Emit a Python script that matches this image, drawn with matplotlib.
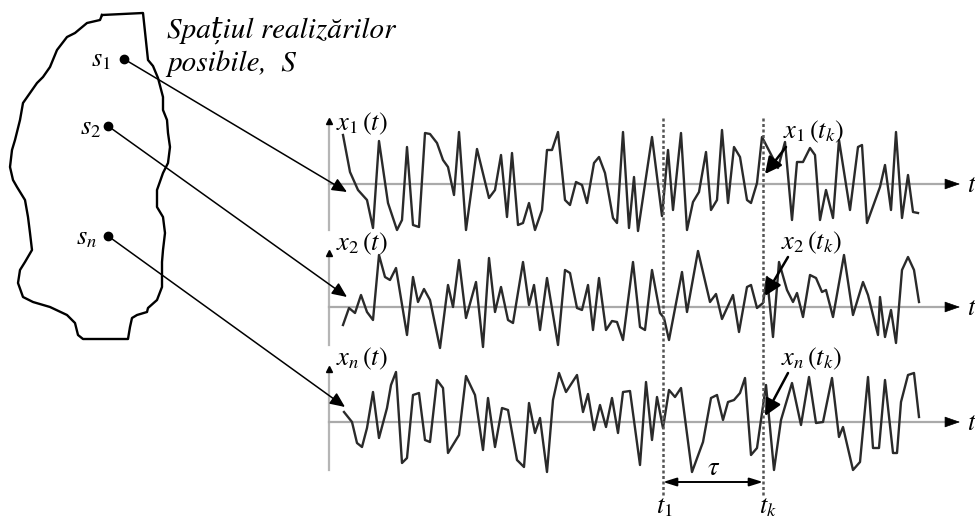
import numpy as np
import matplotlib
matplotlib.use("Agg")
import matplotlib.pyplot as plt

plt.rcParams['font.family'] = ['STIXGeneral', 'DejaVu Serif']
plt.rcParams['mathtext.fontset'] = 'stix'

# sample times (offset from the time axis origin) and amplitudes of the three realisations
t1 = [14, 21, 29, 38, 44, 50, 59, 68, 73, 78, 84, 90, 96, 101, 108, 114, 119, 125, 130, 137,
      148, 160, 166, 172, 178, 183, 189, 194, 200, 206, 213, 218, 223, 229, 236, 241, 247, 253,
      258, 265, 270, 276, 284, 288, 294, 300, 305, 309, 323, 333, 339, 344, 352, 358, 364, 370,
      377, 382, 388, 393, 399, 405, 411, 418, 422, 428, 433, 449, 456, 463, 468, 474, 481, 486,
      491, 497, 504, 510, 521, 529, 533, 538, 551, 556, 562, 567, 573, 579, 584, 589]
x1 = [49, 12, -6, -16, -44, 43, -19, -46, -36, 37, -41, -43, 51, 50, 41, 24, 17, -11, 52, -46,
      35, -14, -6, 29, -33, 31, -41, -39, -19, -46, -26, 34, 34, 52, -16, -21, 2, -1,
      -19, 21, 27, 11, -34, -39, 52, -44, 7, -47, 47, -32, 34, -26, 51, -46, -18, -8,
      32, -26, -16, 54, -19, 37, 27, -16, -19, 1, 47, 16, 42, -36, 22, 22, 36, 29,
      -36, -6, -34, 44, -26, 37, 39, -39, -3, 19, -26, 52, -34, 9, -28, -29]

t2 = [14, 20, 26, 32, 38, 44, 50, 56, 61, 67, 78, 84, 89, 95, 101, 111, 119, 124, 130, 137,
      147, 154, 160, 166, 172, 179, 184, 194, 200, 205, 211, 218, 229, 236, 241, 248, 253, 259,
      264, 270, 277, 283, 288, 294, 304, 311, 316, 323, 331, 335, 340, 353, 358, 369, 381, 387,
      393, 404, 410, 418, 422, 428, 434, 438, 444, 450, 458, 464, 468, 474, 481, 487, 493, 497,
      504, 515, 524, 534, 539, 549, 551, 556, 562, 567, 573, 579, 585, 590]
x2 = [-18, -1, -6, 12, -5, -13, 52, 30, 27, 39, -28, 30, 5, 18, 7, -41, 22, 0, 47, -11,
      25, -40, 49, -5, 20, -13, -16, 45, 2, 22, -23, 29, -38, 37, 34, -1, -3, 22,
      -23, 29, -23, -14, -15, -33, 45, -20, -23, 37, -6, -11, -33, 35, -5, 56, 5, 13,
      -12, 12, -25, 20, 22, -1, 4, 30, -30, 45, 17, 5, 14, -10, 32, 29, 15, 17,
      -10, 52, -8, 25, 12, -28, 10, -30, -3, -36, 37, 50, 37, 5]

tn = [15, 23, 28, 33, 38, 44, 50, 58, 62, 67, 73, 78, 84, 90, 96, 101, 108, 114, 119, 130,
      137, 146, 154, 159, 166, 173, 179, 188, 195, 200, 206, 211, 218, 224, 230, 237, 248, 254,
      259, 265, 271, 277, 283, 289, 294, 301, 311, 317, 323, 328, 334, 340, 346, 352, 363, 374,
      382, 388, 394, 399, 405, 411, 416, 422, 428, 437, 445, 452, 463, 472, 480, 487, 494, 503,
      510, 514, 524, 531, 539, 544, 550, 556, 564, 568, 572, 579, 585, 590]
xn = [10, 0, -21, -25, -6, 30, -16, 14, 37, 50, -41, -36, 27, 29, -18, -20, 42, 34, -31, -13,
      46, 27, -28, 24, -25, 14, 12, -38, -45, 19, -11, 4, -50, 22, 49, 30, 47, 10,
      28, -8, 17, -5, 24, -11, 30, 31, -43, 40, -18, 25, -6, 32, 25, 34, -50, -20,
      24, 27, 2, 20, 22, 29, 44, -33, -26, 37, -48, 2, 39, -3, 45, -1, 0, 44,
      -15, -5, -48, -40, 45, -26, -26, 42, -31, -31, 20, 47, 49, 5]

signals = [(t1, x1), (t2, x2), (tn, xn)]
row_labels = [r'$x_1\,(t)$', r'$x_2\,(t)$', r'$x_n\,(t)$']
tk_labels = [r'$x_1\,(t_k)$', r'$x_2\,(t_k)$', r'$x_n\,(t_k)$']
point_labels = [r'$s_1$', r'$s_2$', r'$s_n$']
title_lines = ['Spațiul realizărilor', 'posibile,  S']

# outline of the sample space S
blob_x = [102, 143, 148, 153, 158, 163, 163, 167, 168, 170, 168, 163, 157, 157, 163, 165, 163, 162,
          162, 157, 148, 147, 137, 132, 130, 128, 83, 78, 75, 67, 50, 33, 23, 18, 20, 25, 32, 30,
          28, 25, 17, 13, 10, 12, 15, 20, 23, 30, 37, 43, 50, 57, 67, 75, 87, 100, 102]
blob_y = [15, 13, 60, 66, 78, 97, 110, 120, 133, 147, 163, 173, 190, 207, 217, 233, 250, 262,
          287, 300, 308, 312, 315, 318, 327, 339, 339, 335, 323, 315, 307, 302, 297, 283, 270, 262,
          250, 233, 217, 200, 187, 180, 167, 150, 140, 120, 103, 93, 83, 77, 67, 50, 37, 33, 23, 20, 15]

fig = plt.figure(figsize=(9.75, 5.21), dpi=100)
ax = fig.add_axes([0, 0, 1, 1])
ax.set_xlim(0, 975)
ax.set_ylim(521, 0)
ax.axis('off')

ax.plot(blob_x, blob_y, color='black', lw=1.7, solid_joinstyle='round')

for k, line in enumerate(title_lines):
    ax.text(167, 38 + 33 * k, line, fontsize=21, style='italic',
            ha='left', va='baseline')

dots = [(124, 59), (108, 126), (108, 236)]
lab_pos = [(101, 60), (91, 128), (87, 238)]
tips = [(347, 192), (347, 297), (345, 407)]

origin = 329
baselines = [184, 307, 422]
vtops = [118, 250, 366]
vbots = [230, 345, 470]
t_end = 960
tau_a, tau_b = 663, 763

arrow_kw = dict(arrowstyle='-|>,head_length=0.9,head_width=0.4', color='black',
                lw=1.1, shrinkA=0, shrinkB=0, mutation_scale=10)

for i in range(3):
    ax.plot(*dots[i], 'o', color='black', ms=6)
    ax.text(*lab_pos[i], point_labels[i], fontsize=19, ha='center', va='center')
    ax.annotate('', xy=tips[i], xytext=dots[i], arrowprops=arrow_kw)

    b = baselines[i]
    # axes
    ax.plot([origin, origin], [vbots[i], vtops[i] + 4], color='#b5b5b5', lw=1.6, zorder=1)
    ax.plot([origin], [vtops[i] + 3], marker='^', color='black', ms=5, zorder=2)
    ax.plot([origin, t_end - 10], [b, b], color='#aaaaaa', lw=1.6, zorder=1)
    ax.annotate('', xy=(t_end, b), xytext=(t_end - 11, b),
                arrowprops=dict(arrowstyle='-|>,head_length=1.0,head_width=0.35', color='black',
                                lw=0.5, shrinkA=0, shrinkB=0, mutation_scale=10), zorder=2)
    ax.text(967, b + 2, r'$t$', fontsize=19, ha='left', va='center')

    # realisation
    tt, xx = signals[i]
    ax.plot(origin + np.array(tt), b - np.array(xx), color='#2a2a2a', lw=1.7, zorder=3)

    ax.text(336, b - 60 if i == 0 else b - 63, row_labels[i], fontsize=19, ha='left', va='center')

tk_text = [(783, 132), (781, 243), (781, 359)]
tk_tail = [(786, 147), (788, 257), (788, 373)]
tk_tip = [(765, 174), (765, 296), (765, 416)]
for i in range(3):
    ax.text(*tk_text[i], tk_labels[i], fontsize=19, ha='left', va='center')
    ax.annotate('', xy=tk_tip[i], xytext=tk_tail[i],
                arrowprops=dict(arrowstyle='-|>,head_length=1.0,head_width=0.5', color='black',
                                lw=1.8, shrinkA=0, shrinkB=0, mutation_scale=10), zorder=5)

for xv in (tau_a, tau_b):
    ax.plot([xv, xv], [118, 496], color='#555555', lw=1.8, ls=(0, (1.2, 1.0)), zorder=4)

ax.annotate('', xy=(tau_b, 482), xytext=(tau_a, 482),
            arrowprops=dict(arrowstyle='<|-|>,head_length=0.8,head_width=0.25', color='black',
                            lw=1.4, shrinkA=0, shrinkB=0, mutation_scale=10))
ax.text(714, 469, r'$\tau$', fontsize=19, ha='center', va='center')
ax.text(664, 507, r'$t_1$', fontsize=19, ha='center', va='center')
ax.text(768, 507, r'$t_k$', fontsize=19, ha='center', va='center')

fig.savefig('out.png', dpi=100)
